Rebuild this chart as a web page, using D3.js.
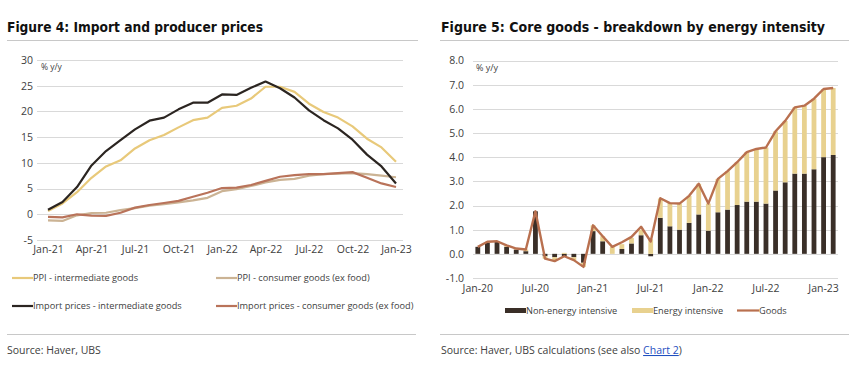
<!DOCTYPE html>
<html>
<head>
<meta charset="utf-8">
<script src="https://cdn.jsdelivr.net/npm/d3@7"></script>
<style>
  body { margin: 0; background: #fff; }
  svg { display: block; }
  text { font-family: "Open Sans", "Noto Sans", sans-serif; fill: #404040; }
  .title { font-family: "DejaVu Sans Condensed", "Liberation Sans Narrow", sans-serif; font-weight: bold; fill: #111; }
</style>
</head>
<body>
<div id="chart"></div>
<script>
// ---- Figure 4 data (monthly, Jan-21 .. Jan-23) ----
const months4 = ["Jan-21","Feb-21","Mar-21","Apr-21","May-21","Jun-21","Jul-21","Aug-21","Sep-21","Oct-21","Nov-21","Dec-21",
  "Jan-22","Feb-22","Mar-22","Apr-22","May-22","Jun-22","Jul-22","Aug-22","Sep-22","Oct-22","Nov-22","Dec-22","Jan-23"];
const ticks4 = ["Jan-21","Apr-21","Jul-21","Oct-21","Jan-22","Apr-22","Jul-22","Oct-22","Jan-23"];
const ppiIntermediate = [0.65,2.1,4.3,7.1,9.3,10.5,12.8,14.4,15.4,16.9,18.3,18.8,20.7,21.1,22.5,24.8,24.8,23.8,21.5,19.9,18.8,17.1,14.7,13.0,10.2];
const ppiConsumer = [-1.2,-1.3,-0.2,0.25,0.3,0.8,1.2,1.7,1.95,2.3,2.7,3.2,4.5,4.9,5.5,6.2,6.7,6.9,7.5,7.8,7.9,8.0,7.8,7.5,7.2];
const importIntermediate = [0.9,2.4,5.3,9.5,12.3,14.4,16.5,18.2,18.8,20.4,21.7,21.7,23.3,23.2,24.6,25.8,24.5,22.7,20.2,18.3,16.7,14.5,11.6,9.3,6.0];
const importConsumer = [-0.5,-0.6,0.0,-0.25,-0.3,0.3,1.3,1.8,2.2,2.6,3.4,4.2,5.1,5.2,5.7,6.5,7.3,7.6,7.8,7.8,8.0,8.2,7.1,6.0,5.3];
const yTicks4 = [-5,0,5,10,15,20,25,30];

// ---- Figure 5 data (monthly, Jan-20 .. Feb-23) ----
const months5 = ["Jan-20","Feb-20","Mar-20","Apr-20","May-20","Jun-20","Jul-20","Aug-20","Sep-20","Oct-20","Nov-20","Dec-20",
  "Jan-21","Feb-21","Mar-21","Apr-21","May-21","Jun-21","Jul-21","Aug-21","Sep-21","Oct-21","Nov-21","Dec-21",
  "Jan-22","Feb-22","Mar-22","Apr-22","May-22","Jun-22","Jul-22","Aug-22","Sep-22","Oct-22","Nov-22","Dec-22",
  "Jan-23","Feb-23"];
const ticks5 = ["Jan-20","Jul-20","Jan-21","Jul-21","Jan-22","Jul-22","Jan-23"];
const nonEnergy = [0.29,0.45,0.5,0.29,0.18,0.11,1.76,-0.1,-0.14,-0.12,-0.14,-0.37,0.94,0.52,0.0,0.2,0.43,0.77,-0.1,1.49,1.14,1.0,1.28,1.63,
  0.96,1.72,1.83,2.02,2.16,2.16,2.08,2.62,2.96,3.32,3.32,3.5,4.0,4.09];
const energy = [0.0,0.05,0.02,0.06,0.04,0.07,0.0,-0.1,-0.16,0.04,-0.12,-0.17,0.24,0.21,0.29,0.2,0.23,0.23,0.6,0.8,0.96,1.08,1.12,1.27,
  1.12,1.38,1.59,1.77,2.05,2.18,2.32,2.45,2.54,2.74,2.81,2.92,2.82,2.77];
const goods = [0.29,0.5,0.52,0.35,0.22,0.18,1.76,-0.2,-0.3,-0.1,-0.26,-0.54,1.18,0.73,0.29,0.48,0.7,1.12,0.51,2.3,2.1,2.08,2.4,2.9,
  2.08,3.1,3.42,3.79,4.21,4.34,4.4,5.07,5.5,6.06,6.13,6.42,6.82,6.86];
const yTicks5 = [-1,0,1,2,3,4,5,6,7,8];

const W = 865, H = 377;
const gridColor = "#d9d9d9", ruleColor = "#c8c8c8";
const hyphen = f => d => f(d).replace("\u2212", "-");
const svg = d3.select("#chart").append("svg").attr("width", W).attr("height", H);

// ================= Figure 4 =================
(function () {
  const g = svg.append("g");
  g.append("text").attr("class", "title").attr("x", 7).attr("y", 32)
    .attr("font-size", 14.5).attr("textLength", 256).attr("lengthAdjust", "spacingAndGlyphs")
    .text("Figure 4: Import and producer prices");
  g.append("line").attr("x1", 7).attr("x2", 418).attr("y1", 40.5).attr("y2", 40.5)
    .attr("stroke", ruleColor);

  const x = d3.scaleLinear().domain([0, months4.length - 1]).range([48, 396]);
  const y = d3.scaleLinear().domain([-5, 30]).range([240, 60]);

  // gridlines
  g.append("g").selectAll("line").data(yTicks4).join("line")
    .attr("x1", 37).attr("x2", 403)
    .attr("y1", d => Math.round(y(d)) + 0.5).attr("y2", d => Math.round(y(d)) + 0.5)
    .attr("stroke", gridColor);

  const yAxis = g.append("g").attr("transform", "translate(33,0)")
    .call(d3.axisLeft(y).tickValues(yTicks4).tickSize(0).tickPadding(0).tickFormat(hyphen(d3.format("d"))));
  yAxis.select(".domain").remove();
  yAxis.selectAll("text").attr("font-size", 10.5).attr("fill", "#404040").style("font-family", null);

  const xAxis = g.append("g").attr("transform", "translate(0,246)")
    .call(d3.axisBottom(x).tickValues(ticks4.map(t => months4.indexOf(t)))
      .tickFormat(i => months4[i]).tickSize(0).tickPadding(0));
  xAxis.select(".domain").remove();
  xAxis.selectAll("text").attr("font-size", 10.5).attr("fill", "#404040").attr("dy", "0.71em").style("font-family", null);

  g.append("text").attr("x", 41).attr("y", 70).attr("font-size", 8.5).text("% y/y");

  const series = [
    { name: "PPI - consumer goods (ex food)", values: ppiConsumer, color: "#cbb394" },
    { name: "PPI - intermediate goods", values: ppiIntermediate, color: "#e8c97a" },
    { name: "Import prices - consumer goods (ex food)", values: importConsumer, color: "#b9735a" },
    { name: "Import prices - intermediate goods", values: importIntermediate, color: "#2b2521" }
  ];
  const line = d3.line().x((d, i) => x(i)).y(d => y(d));
  g.append("g").selectAll("path").data(series).join("path")
    .attr("d", d => line(d.values))
    .attr("fill", "none").attr("stroke", d => d.color).attr("stroke-width", 2.2)
    .attr("stroke-linejoin", "round");

  // legend
  const legendItems = [
    { name: "PPI - intermediate goods", color: "#e8c97a", x: 12, y: 278 },
    { name: "PPI - consumer goods (ex food)", color: "#cbb394", x: 216, y: 278 },
    { name: "Import prices - intermediate goods", color: "#2b2521", x: 12, y: 306 },
    { name: "Import prices - consumer goods (ex food)", color: "#b9735a", x: 216, y: 306 }
  ];
  const lg = g.append("g").selectAll("g").data(legendItems).join("g")
    .attr("transform", d => `translate(${d.x},${d.y})`);
  lg.append("line").attr("x1", 0).attr("x2", 21).attr("stroke", d => d.color).attr("stroke-width", 2.2);
  lg.append("text").attr("x", 21).attr("dy", "0.35em").attr("font-size", 9.2).text(d => d.name);

  g.append("line").attr("x1", 7).attr("x2", 416).attr("y1", 334.5).attr("y2", 334.5).attr("stroke", ruleColor);
  g.append("text").attr("x", 7).attr("y", 354).attr("font-size", 10.5).text("Source: Haver, UBS");
})();

// ================= Figure 5 =================
(function () {
  const g = svg.append("g");
  g.append("text").attr("class", "title").attr("x", 441).attr("y", 32)
    .attr("font-size", 14.5).attr("textLength", 384).attr("lengthAdjust", "spacingAndGlyphs")
    .text("Figure 5: Core goods - breakdown by energy intensity");
  g.append("line").attr("x1", 440).attr("x2", 849).attr("y1", 40.5).attr("y2", 40.5)
    .attr("stroke", ruleColor);

  const x = d3.scaleBand().domain(months5).range([473, 838]).paddingInner(0.5).paddingOuter(0.25);
  const y = d3.scaleLinear().domain([-1, 8]).range([278, 60.5]);

  g.append("g").selectAll("line").data(yTicks5).join("line")
    .attr("x1", 473).attr("x2", 838)
    .attr("y1", d => Math.round(y(d)) + 0.5).attr("y2", d => Math.round(y(d)) + 0.5)
    .attr("stroke", gridColor);

  const yAxis = g.append("g").attr("transform", "translate(464,0)")
    .call(d3.axisLeft(y).tickValues(yTicks5).tickSize(0).tickPadding(0).tickFormat(hyphen(d3.format(".1f"))));
  yAxis.select(".domain").remove();
  yAxis.selectAll("text").attr("font-size", 10.5).attr("fill", "#404040").style("font-family", null);

  const xAxis = g.append("g").attr("transform", "translate(0,285)")
    .call(d3.axisBottom(x).tickValues(ticks5).tickSize(0).tickPadding(0));
  xAxis.select(".domain").remove();
  xAxis.selectAll("text").attr("font-size", 10.5).attr("fill", "#404040").attr("dy", "0.71em").style("font-family", null);

  g.append("text").attr("x", 476).attr("y", 71).attr("font-size", 9).text("% y/y");

  const rows = months5.map((m, i) => ({ month: m, nonEnergy: nonEnergy[i], energy: energy[i] }));
  const keys = ["nonEnergy", "energy"];
  const colors = { nonEnergy: "#3a2f28", energy: "#e8d18f" };
  const stacked = d3.stack().keys(keys).offset(d3.stackOffsetDiverging)(rows);

  g.append("g").selectAll("g").data(stacked).join("g")
    .attr("fill", d => colors[d.key])
    .selectAll("rect").data(d => d).join("rect")
    .attr("x", d => x(d.data.month))
    .attr("width", x.bandwidth())
    .attr("y", d => y(Math.max(d[0], d[1])))
    .attr("height", d => Math.abs(y(d[0]) - y(d[1])));

  const line = d3.line().x((d, i) => x(months5[i]) + x.bandwidth() / 2).y(d => y(d));
  g.append("path").attr("d", line(goods)).attr("fill", "none")
    .attr("stroke", "#b9704f").attr("stroke-width", 2.4).attr("stroke-linejoin", "round");

  // legend
  const ly = 310.5;
  g.append("rect").attr("x", 505).attr("y", ly - 2.5).attr("width", 21).attr("height", 5).attr("fill", colors.nonEnergy);
  g.append("text").attr("x", 526).attr("y", ly).attr("dy", "0.35em").attr("font-size", 9.2).text("Non-energy intensive");
  g.append("rect").attr("x", 632).attr("y", ly - 2.5).attr("width", 21).attr("height", 5).attr("fill", colors.energy);
  g.append("text").attr("x", 653).attr("y", ly).attr("dy", "0.35em").attr("font-size", 9.2).text("Energy intensive");
  g.append("line").attr("x1", 737).attr("x2", 759).attr("y1", ly).attr("y2", ly).attr("stroke", "#b9704f").attr("stroke-width", 2.2);
  g.append("text").attr("x", 759).attr("y", ly).attr("dy", "0.35em").attr("font-size", 9.2).text("Goods");

  g.append("line").attr("x1", 440).attr("x2", 849).attr("y1", 334.5).attr("y2", 334.5).attr("stroke", ruleColor);
  const src = g.append("text").attr("x", 441).attr("y", 354).attr("font-size", 10.5);
  src.append("tspan").text("Source: Haver, UBS calculations (see also ");
  src.append("tspan").attr("fill", "#1f4fbf").attr("text-decoration", "underline").text("Chart 2");
  src.append("tspan").text(")");
})();
</script>
</body>
</html>
